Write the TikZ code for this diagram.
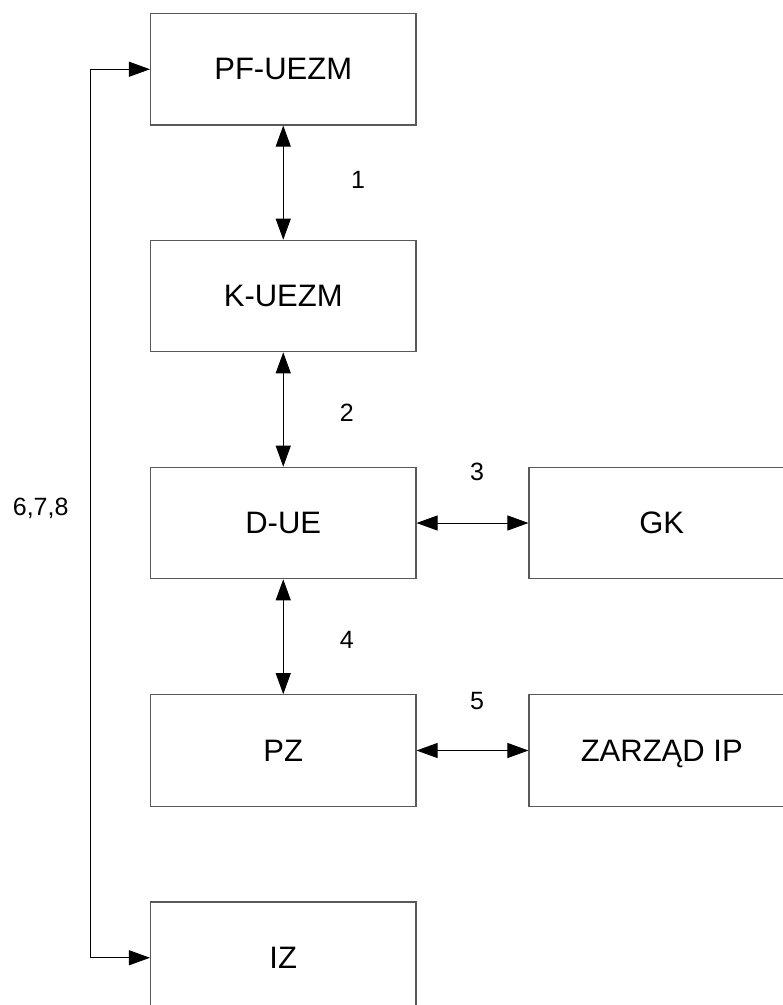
\documentclass[tikz,border=0pt]{standalone}
\usepackage{fontspec}
\setmainfont{Liberation Sans}
\usetikzlibrary{arrows.meta}
\tikzset{
  unit/.style={draw=black!65,line width=1.1pt,minimum width=265.5pt,minimum height=111.5pt,inner sep=0pt,text depth=0pt,font=\fontsize{31}{37}\selectfont},
  num/.style={inner sep=0pt,font=\fontsize{25}{30}\selectfont},
  link/.style={line width=0.9pt,{Triangle[length=21pt,width=15pt]}-{Triangle[length=21pt,width=15pt]}}
}
\begin{document}
\begin{tikzpicture}[x=1pt,y=-1pt]
\useasboundingbox (0,0) rectangle (783,1005);
\node[unit] (pf) at (283.25,69.25) {PF-UEZM};
\node[unit] (kuezm) at (283.25,296) {K-UEZM};
\node[unit] (due) at (283.25,523) {D-UE};
\node[unit] (pz) at (283.25,750.5) {PZ};
\node[unit] (iz) at (283.25,957.75) {IZ};
\node[unit] (gk) at (661.75,523) {GK};
\node[unit] (zarzad) at (661.75,750.5) {ZARZĄD IP};
\draw[link] (pf) -- (kuezm);
\draw[link] (kuezm) -- (due);
\draw[link] (due) -- (pz);
\draw[link] (due) -- (gk);
\draw[link] (pz) -- (zarzad);
\coordinate (turn) at (90,69.25);
\draw[link] (pf.west) -- (turn) |- (iz.west);
\node[num] (n1) at (358,180) {1};
\node[num] (n2) at (346.7,413) {2};
\node[num] (n3) at (477,471.7) {3};
\node[num] (n4) at (346.7,640) {4};
\node[num] (n5) at (477,700.7) {5};
\node[num] (n678) at (40.7,508) {6,7,8};
\end{tikzpicture}
\end{document}
